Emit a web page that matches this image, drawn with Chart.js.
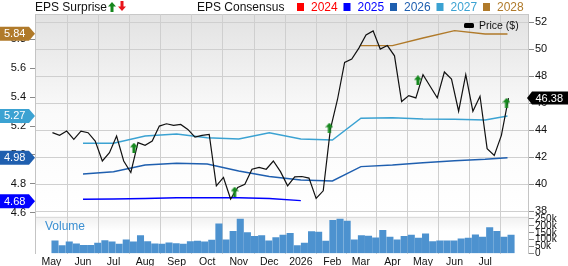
<!DOCTYPE html>
<html><head><meta charset="utf-8">
<script src="https://cdn.jsdelivr.net/npm/chart.js@4.4.0/dist/chart.umd.min.js"></script>
<style>html,body{margin:0;padding:0;background:#fff;overflow:hidden}</style>
</head><body>
<canvas id="c" width="568" height="266"></canvas>
<script>
// ---- data ----
const monthLabels = ['May','Jun','Jul','Aug','Sep','Oct','Nov','Dec','2026','Feb','Mar','Apr','May','Jun','Jul'];
const monthDays = [0,31,61,92,123,153,184,214,245,276,304,335,365,396,426]; // days since 2025-05-01
const priceTicks = [38,40,42,44,46,48,50,52];
const epsTicks = [4.6,4.8,5.0,5.2,5.4,5.6,5.8];
const volTicks = [0,50,100,150,200,250]; // thousands

// weekly closing price (week i at day 1+7i)
const priceValues = [43.81,43.61,43.93,43.31,43.93,43.81,43.19,41.71,42.33,43.56,
  41.71,40.86,43.07,42.87,43.19,44.30,44.47,44.35,44.42,44.05,
  43.48,43.61,43.68,39.87,40.49,38.89,39.75,39.99,41.10,41.23,
  41.10,41.71,40.92,39.87,40.53,40.56,40.44,38.94,39.50,44.05,
  46.27,49.02,49.27,50.08,51.06,51.36,50.01,50.27,49.51,46.12,
  46.56,46.39,48.11,47.25,46.39,48.31,47.79,45.40,48.11,45.40,
  46.51,42.63,42.13,43.61,46.38];
// weekly volume, thousands (week i centred at day 3.5+7i)
const volumeValues = [92,57,85,70,60,60,75,94,85,68,
  99,85,129,87,70,68,77,72,68,87,
  90,85,97,215,99,160,250,151,124,129,
  92,116,134,147,58,75,158,156,90,240,
  250,235,99,129,127,114,168,119,99,124,
  134,112,143,87,92,92,92,107,112,136,
  119,187,160,119,134];
// consensus EPS snapshots (Jun 1 2025 ... Jul 1 2026, then latest)
const epsDays = [31,61,92,123,153,184,214,245,276,304,335,365,396,426,448];
const eps2024 = [];
const eps2025 = [4.693,4.695,4.698,4.704,4.704,4.704,4.698,4.684,null,null,null,null,null,null,null];
const eps2026 = [4.868,4.884,4.930,4.942,4.937,4.889,4.851,4.826,4.820,4.919,4.930,4.946,4.960,4.970,4.981];
const eps2027 = [5.081,5.081,5.131,5.145,5.119,5.110,5.154,5.110,5.103,5.254,5.258,5.249,5.247,5.242,5.270];
const eps2028 = [null,null,null,null,null,null,null,null,null,5.757,5.757,5.810,5.861,5.838,5.838];
// EPS surprise markers (all positive)
const surpriseDays = [81,180,273,360,447];
const surprisePrices = [42.70,39.44,44.18,47.69,46.02];
// current-value tags
const seriesNames = ['2024','2025','2026','2027','2028'];
const tagLabels = ['5.84','5.27','4.98','4.68'];
const tagValues = [5.84,5.27,4.98,4.68];
const lastPriceLabel = '46.38';
const lastPrice = 46.38;

// ---- styles ----
const FF = '"Liberation Sans", Arial, sans-serif';
const colors = {'2024':'#ff0000','2025':'#0000ff','2026':'#1f5faf','2027':'#3ba2d2','2028':'#b07a2a'};
const tagColors = ['#b07a2a','#3ba2d2','#1f5faf','#0000ff'];

function makeArrow(color, up){
  const c=document.createElement('canvas'); c.width=8; c.height=10;
  const g=c.getContext('2d'); g.fillStyle=color; g.beginPath();
  if(up){ g.moveTo(4,0);g.lineTo(8,4.5);g.lineTo(5.5,4.5);g.lineTo(5.5,10);g.lineTo(2.5,10);g.lineTo(2.5,4.5);g.lineTo(0,4.5);}
  else { g.moveTo(4,10);g.lineTo(8,5.5);g.lineTo(5.5,5.5);g.lineTo(5.5,0);g.lineTo(2.5,0);g.lineTo(2.5,5.5);g.lineTo(0,5.5);}
  g.closePath(); g.fill(); return c;
}
const upArrow = makeArrow('#16881e', true);
const downArrow = makeArrow('#e8141b', false);

const pts = (days, vals) => vals.map((v,i)=>({x:days[i], y:v}));
const priceDays = priceValues.map((_,i)=>1+7*i);
const volDays = volumeValues.map((_,i)=>3.5+7*i);

const bgPlugin = {
  id:'bg',
  beforeDraw(chart){
    const ctx=chart.ctx, a=chart.chartArea, yP=chart.scales.yPrice, yV=chart.scales.yVol;
    ctx.save();
    ctx.fillStyle='#fff'; ctx.fillRect(0,0,chart.width,chart.height);
    const pb = yP.getPixelForValue(37.8);
    const g=ctx.createLinearGradient(0,a.top,0,pb);
    g.addColorStop(0,'#e2e2e2'); g.addColorStop(0.5,'#fafafa'); g.addColorStop(1,'#ffffff');
    ctx.fillStyle=g; ctx.fillRect(a.left,a.top,a.right-a.left,pb-a.top);
    const vt = yV.top;
    const g2=ctx.createLinearGradient(0,vt,0,a.bottom);
    g2.addColorStop(0,'#f0f0f0'); g2.addColorStop(0.4,'#ffffff');
    ctx.fillStyle=g2; ctx.fillRect(a.left,vt,a.right-a.left,a.bottom-vt);
    ctx.strokeStyle='#c8c8c8'; ctx.lineWidth=1;
    ctx.beginPath(); ctx.moveTo(a.left,a.top+0.5); ctx.lineTo(a.right,a.top+0.5); ctx.stroke();
    ctx.strokeStyle='#dcdcdc';
    ctx.beginPath(); ctx.moveTo(a.left,Math.round(vt)+0.5); ctx.lineTo(a.right,Math.round(vt)+0.5); ctx.stroke();
    ctx.restore();
  },
  afterDraw(chart){
    const ctx=chart.ctx, yE=chart.scales.yEps, yP=chart.scales.yPrice;
    ctx.save();
    // top legend
    ctx.font='12px '+FF; ctx.textBaseline='alphabetic'; ctx.fillStyle='#111'; ctx.textAlign='left';
    ctx.fillText('EPS Surprise',35,11);
    ctx.drawImage(upArrow,108,2); ctx.drawImage(downArrow,118,1);
    ctx.fillStyle='#111'; ctx.fillText('EPS Consensus',197,11);
    seriesNames.forEach((n,k)=>{
      const x0=297+46.5*k;
      ctx.fillStyle=colors[n]; ctx.fillRect(x0,3,7,8);
      ctx.fillText(n,x0+14,11);
    });
    // price legend in plot
    ctx.fillStyle='#000';
    ctx.beginPath(); ctx.roundRect(464,23,10,5,1.5); ctx.fill();
    ctx.font='10.5px '+FF; ctx.textBaseline='middle'; ctx.fillStyle='#111';
    ctx.fillText('Price ($)',479,26);
    // Volume label
    ctx.font='12px '+FF; ctx.fillStyle='#3a8fd2'; ctx.textBaseline='middle';
    ctx.fillText('Volume',45,227);
    // left tags
    ctx.font='11px '+FF;
    tagValues.forEach((v,k)=>{
      const y=yE.getPixelForValue(v);
      ctx.fillStyle=tagColors[k];
      ctx.beginPath(); ctx.moveTo(0,y-7); ctx.lineTo(29,y-7); ctx.lineTo(35,y); ctx.lineTo(29,y+7); ctx.lineTo(0,y+7); ctx.closePath(); ctx.fill();
      ctx.fillStyle='#fff'; ctx.textBaseline='middle'; ctx.fillText(tagLabels[k],4,y+0.5);
    });
    // right price tag
    const py=yP.getPixelForValue(lastPrice);
    ctx.fillStyle='#000';
    ctx.beginPath(); ctx.moveTo(527,py); ctx.lineTo(532,py-6.5); ctx.lineTo(568,py-6.5); ctx.lineTo(568,py+6.5); ctx.lineTo(532,py+6.5); ctx.closePath(); ctx.fill();
    ctx.fillStyle='#fff'; ctx.fillText(lastPriceLabel,535.5,py+0.5);
    ctx.restore();
  }
};

const tickFont = {family:FF, size:11};
new Chart(document.getElementById('c'), {
  type:'line',
  data:{datasets:[
    {type:'line', label:'surprise', data:pts(surpriseDays,surprisePrices), yAxisID:'yPrice', showLine:false, pointStyle:upArrow, pointRadius:5, pointHoverRadius:5},
    {type:'line', label:'Price ($)', data:pts(priceDays,priceValues), yAxisID:'yPrice', borderColor:'#111', borderWidth:1.2, pointRadius:0, tension:0},
    {type:'line', label:'2028', data:pts(epsDays,eps2028), yAxisID:'yEps', borderColor:colors['2028'], borderWidth:1.4, pointRadius:0, tension:0},
    {type:'line', label:'2027', data:pts(epsDays,eps2027), yAxisID:'yEps', borderColor:colors['2027'], borderWidth:1.4, pointRadius:0, tension:0},
    {type:'line', label:'2026', data:pts(epsDays,eps2026), yAxisID:'yEps', borderColor:colors['2026'], borderWidth:1.4, pointRadius:0, tension:0},
    {type:'line', label:'2025', data:pts(epsDays,eps2025), yAxisID:'yEps', borderColor:colors['2025'], borderWidth:1.4, pointRadius:0, tension:0},
    {type:'line', label:'2024', data:pts(epsDays,eps2024), yAxisID:'yEps', borderColor:colors['2024'], borderWidth:1.4, pointRadius:0},
    {type:'bar', label:'Volume', data:pts(volDays,volumeValues), yAxisID:'yVol', backgroundColor:'#4d92cf', borderWidth:0, barThickness:6.4}
  ]},
  options:{
    responsive:false, animation:false, devicePixelRatio:1,
    layout:{padding:{top:14,left:0,right:0,bottom:0}},
    plugins:{legend:{display:false}, tooltip:{enabled:false}},
    scales:{
      x:{type:'linear', min:0, max:452,
        afterBuildTicks(s){ s.ticks = monthDays.map(v=>({value:v})); },
        afterFit(s){ s.height = 12.5; },
        ticks:{autoSkip:false, maxRotation:0, padding:2, font:{family:FF,size:10.5}, color:'#111', callback:(v,i)=>monthLabels[i]},
        grid:{color:'#cfcfcf', drawTicks:false}, border:{display:false}},
      yEps:{type:'linear', position:'left', min:4.3175, max:5.976,
        afterBuildTicks(s){ s.ticks = epsTicks.map(v=>({value:v})); },
        afterFit(s){ s.width = 35; },
        ticks:{autoSkip:false, padding:4, font:tickFont, color:'#111', callback:v=>Number(v).toFixed(1)},
        grid:{drawOnChartArea:false, tickLength:5, color:'#8a8a8a'}, border:{color:'#c4c4c4'}},
      yPrice:{type:'linear', position:'right', stack:'right', stackWeight:202.5, min:37.594, max:52.61,
        afterBuildTicks(s){ s.ticks = priceTicks.map(v=>({value:v})); },
        afterFit(s){ s.width = 40; },
        ticks:{autoSkip:false, padding:1, font:tickFont, color:'#111'},
        grid:{color:'#cfcfcf', tickLength:6, tickColor:'#8a8a8a'}, border:{color:'#c4c4c4'}},
      yVol:{type:'linear', position:'right', stack:'right', stackWeight:37, min:0, max:268.1,
        afterBuildTicks(s){ s.ticks = volTicks.map(v=>({value:v})); },
        afterFit(s){ s.width = 40; },
        ticks:{autoSkip:false, padding:1, font:{family:FF,size:10}, color:'#111', callback:v=> v===0?'0':v+'k'},
        grid:{drawOnChartArea:false, tickLength:6, color:'#8a8a8a'}, border:{color:'#c4c4c4'}}
    }
  },
  plugins:[bgPlugin]
});
</script></body></html>
